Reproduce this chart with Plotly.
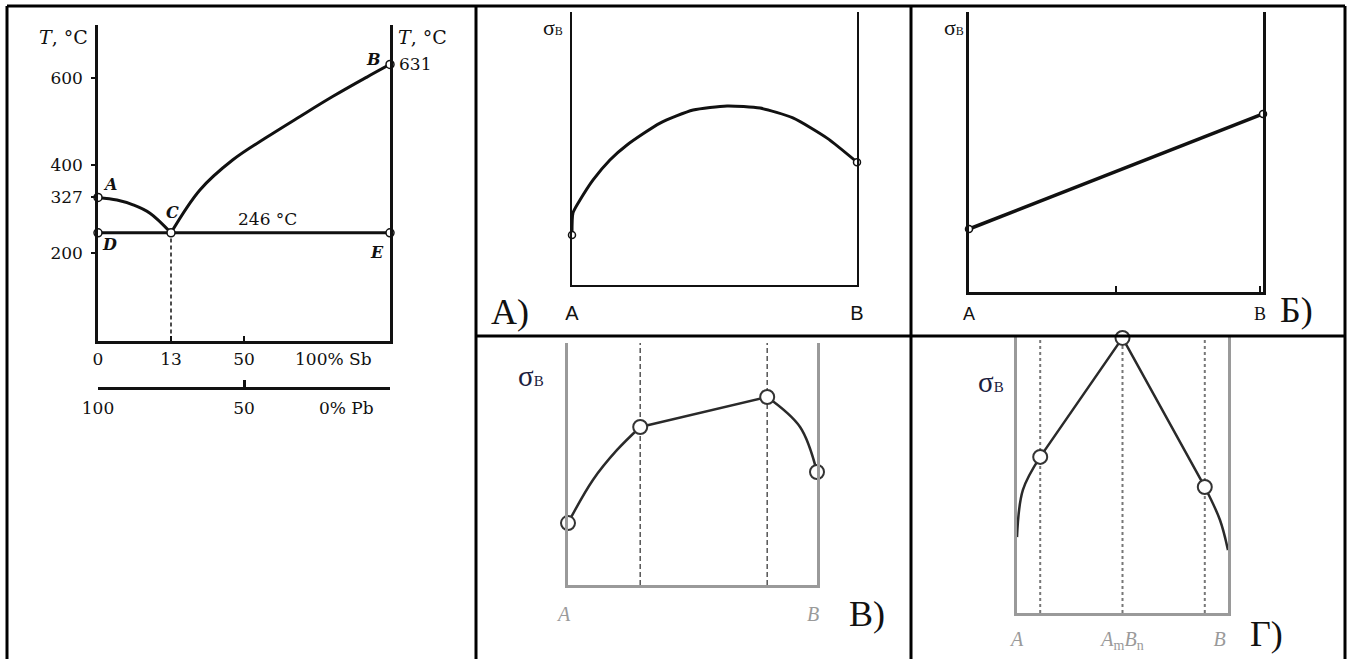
import plotly.graph_objects as go

W, H = 1351, 659

# ── Pb–Sb phase diagram (left cell) ─────────────────────────────────
liq_left_x = [0, 6.5, 12, 17.8, 25]
liq_left_t = [327, 321, 310, 291, 246]
liq_right_x = [25, 34.9, 46.2, 57.9, 69.2, 80.5, 92.1, 100]
liq_right_t = [246, 344, 413, 465, 512, 558, 602, 631]
eutectic_x = [0, 100]
eutectic_t = [246, 246]
pt_names = ["A", "C", "D", "E", "B"]
pt_x = [0, 25, 0, 100, 100]
pt_t = [327, 246, 246, 246, 631]
t_ticks = [200, 327, 400, 600]
sb_ticks = [0, 25, 50]
sb_text = ["0", "13", "50"]
pb_ticks = [0, 50, 100]
pb_text = ["100", "50", ""]

# ── σв vs composition sketches ──────────────────────────────────────
# A) continuous solid solution
a_x = [0, 0.35, 2.8, 7.4, 13.3, 19.3, 30.9, 42.5, 54.4, 66, 77.5, 89.5, 100]
a_s = [18.3, 26.4, 31.1, 38.5, 45.8, 51.3, 59.3, 64.1, 65.6, 64.8, 61.2, 53.8, 45]
# Б) mechanical mixture
b_x = [0, 100]
b_s = [22.5, 63.6]
# В) limited solid solutions + mixture
v_x1, v_s1 = [0, 10, 19.7, 29], [25.6, 43.4, 55.8, 65.3]
v_x2, v_s2 = [29, 80], [65.3, 77.7]
v_x3, v_s3 = [80, 93.2, 100], [77.7, 65.3, 46.7]
v_div = [29, 80]
# Г) chemical compound AmBn
g_x1, g_s1 = [0, 2.8, 11], [28, 45.4, 57.6]
g_x2, g_s2 = [11, 50, 89], [57.6, 101.5, 46.5]
g_x3, g_s3 = [89, 96.2, 100], [46.5, 34.3, 23.2]
g_div = [11, 50, 89]
g_ticks = [0, 50, 96]
g_text = ["<i>A</i>", "<i>A</i><sub>m</sub><i>B</i><sub>n</sub>", "<i>B</i>"]


def dom_x(a, b):
    return [a / W, b / W]


def dom_y(top, bottom):
    return [1 - bottom / H, 1 - top / H]


def vlines(xs, top):
    vx, vy = [], []
    for x in xs:
        vx += [x, x, None]
        vy += [0, top, None]
    return vx, vy


SERIF = "DejaVu Serif"
TIMES = "Liberation Serif"
SANS = "Liberation Sans"
INK = "#111111"
GREY = "#9a9a9a"

fig = go.Figure()

# phase diagram
fig.add_trace(go.Scatter(x=liq_left_x, y=liq_left_t, mode="lines", line=dict(color=INK, width=3, shape="spline"), xaxis="x", yaxis="y"))
fig.add_trace(go.Scatter(x=liq_right_x, y=liq_right_t, mode="lines", line=dict(color=INK, width=3, shape="spline"), xaxis="x", yaxis="y"))
fig.add_trace(go.Scatter(x=eutectic_x, y=eutectic_t, mode="lines", line=dict(color=INK, width=3), xaxis="x", yaxis="y"))
fig.add_trace(go.Scatter(x=[pt_x[1], pt_x[1]], y=[0, pt_t[1]], mode="lines", line=dict(color=INK, width=1.5, dash="4px,3px"), xaxis="x", yaxis="y"))
fig.add_trace(go.Scatter(x=pt_x, y=pt_t, mode="markers", cliponaxis=False,
                         marker=dict(size=8, color="white", line=dict(color=INK, width=1.5)), xaxis="x", yaxis="y"))
fig.add_trace(go.Scatter(x=[], y=[], xaxis="x6", yaxis="y"))

# A)
fig.add_trace(go.Scatter(x=a_x, y=a_s, mode="lines", line=dict(color=INK, width=3, shape="spline", smoothing=0.6), xaxis="x2", yaxis="y2"))
fig.add_trace(go.Scatter(x=[a_x[0], a_x[-1]], y=[a_s[0], a_s[-1]], mode="markers", cliponaxis=False,
                         marker=dict(size=7, color="white", line=dict(color=INK, width=1.5)), xaxis="x2", yaxis="y2"))

# Б)
fig.add_trace(go.Scatter(x=b_x, y=b_s, mode="lines+markers", cliponaxis=False, line=dict(color=INK, width=3.5),
                         marker=dict(size=7, color="white", line=dict(color=INK, width=1.5)), xaxis="x3", yaxis="y3"))

# В)
vx, vy = vlines(v_div, 100)
fig.add_trace(go.Scatter(x=vx, y=vy, mode="lines", line=dict(color="#555555", width=1.5, dash="5px,3px"), xaxis="x4", yaxis="y4"))
for xs, ys, shp in [(v_x1, v_s1, "spline"), (v_x2, v_s2, "linear"), (v_x3, v_s3, "spline")]:
    fig.add_trace(go.Scatter(x=xs, y=ys, mode="lines", line=dict(color="#2a2a2a", width=2.5, shape=shp), xaxis="x4", yaxis="y4"))
fig.add_trace(go.Scatter(x=[v_x1[0], v_x2[0], v_x3[0], v_x3[-1]], y=[v_s1[0], v_s2[0], v_s3[0], v_s3[-1]],
                         mode="markers", cliponaxis=False,
                         marker=dict(size=14, color="white", line=dict(color="#333333", width=2)), xaxis="x4", yaxis="y4"))

# Г)
gx, gy = vlines(g_div, 102.2)
fig.add_trace(go.Scatter(x=gx, y=gy, mode="lines", line=dict(color="#777777", width=2, dash="3px,3px"), xaxis="x5", yaxis="y5"))
for xs, ys, shp in [(g_x1, g_s1, "spline"), (g_x2, g_s2, "linear"), (g_x3, g_s3, "spline")]:
    fig.add_trace(go.Scatter(x=xs, y=ys, mode="lines", line=dict(color="#2a2a2a", width=2.5, shape=shp), xaxis="x5", yaxis="y5"))
fig.add_trace(go.Scatter(x=g_x2, y=g_s2, mode="markers", cliponaxis=False,
                         marker=dict(size=14, color="white", line=dict(color="#333333", width=2)), xaxis="x5", yaxis="y5"))


def box_axes(color, width):
    xa = dict(showline=True, linecolor=color, linewidth=width, showgrid=False, zeroline=False,
              ticks="", showticklabels=True, automargin=False)
    ya = dict(showline=True, mirror=True, linecolor=color, linewidth=width, showgrid=False, zeroline=False,
              ticks="", showticklabels=False, automargin=False)
    return xa, ya


layout = dict(
    width=W, height=H, margin=dict(l=0, r=0, t=0, b=0, autoexpand=False),
    paper_bgcolor="white", plot_bgcolor="white", showlegend=False,
)

# left phase diagram axes
xa, ya = box_axes(INK, 2.5)
xa.update(domain=dom_x(98, 390), range=[0, 100], anchor="y", tickvals=sb_ticks, ticktext=sb_text,
          ticks="inside", ticklen=5, tickwidth=2, tickcolor=INK, ticklabelstandoff=1,
          tickfont=dict(family=SERIF, size=17, color=INK))
ya.update(domain=dom_y(25, 340.5), range=[0, 721], anchor="x", tickvals=t_ticks, showticklabels=True,
          ticks="outside", ticklen=4, tickwidth=2, tickcolor=INK, ticklabelstandoff=5,
          tickfont=dict(family=SERIF, size=17, color=INK))
layout["xaxis"], layout["yaxis"] = xa, ya
layout["xaxis6"] = dict(overlaying="x", anchor="free", position=1 - 388 / H, range=[0, 100],
                        showline=True, linecolor=INK, linewidth=2.5, showgrid=False, zeroline=False,
                        tickvals=pb_ticks, ticktext=pb_text, ticks="inside", ticklen=7, tickwidth=2.5,
                        tickcolor=INK, ticklabelstandoff=4, automargin=False,
                        tickfont=dict(family=SERIF, size=17, color=INK))

# A)
xa, ya = box_axes(INK, 2)
xa.update(domain=dom_x(572, 857), range=[0, 100], anchor="y2", tickvals=[0, 100], ticktext=["A", "B"],
          ticklabelstandoff=9, tickfont=dict(family=SANS, size=20, color=INK))
ya.update(domain=dom_y(12, 285), range=[0, 100], anchor="x2")
layout["xaxis2"], layout["yaxis2"] = xa, ya

# Б)
xa, ya = box_axes(INK, 2.5)
xa.update(domain=dom_x(969, 1263), range=[0, 100], anchor="y3", tickvals=[0, 50, 99],
          ticktext=["A", "", "<span style='font-family:Liberation Serif'>B</span>"],
          ticks="inside", ticklen=6, tickwidth=2, tickcolor=INK,
          ticklabelstandoff=4, tickfont=dict(family=SANS, size=18, color=INK))
ya.update(domain=dom_y(12, 292), range=[0, 100], anchor="x3")
layout["xaxis3"], layout["yaxis3"] = xa, ya

# В)
xa, ya = box_axes(GREY, 2.5)
xa.update(domain=dom_x(568, 817), range=[0, 100], anchor="y4", tickvals=[0, 100],
          ticktext=["<i>A</i>", "<i>B</i>"], ticklabelstandoff=9, ticklabelshift=-4,
          tickfont=dict(family=TIMES, size=20, color=GREY))
ya.update(domain=dom_y(343, 585), range=[0, 100], anchor="x4")
layout["xaxis4"], layout["yaxis4"] = xa, ya

# Г)
xa, ya = box_axes(GREY, 2.5)
xa.update(domain=dom_x(1017, 1228), range=[0, 100], anchor="y5", tickvals=g_ticks, ticktext=g_text,
          ticklabelstandoff=6, tickfont=dict(family=TIMES, size=20, color=GREY))
ya.update(domain=dom_y(336, 613), range=[0, 102.2], anchor="x5")
layout["xaxis5"], layout["yaxis5"] = xa, ya

fig.update_layout(**layout)

# ── labels ──────────────────────────────────────────────────────────
ann = []


def paper_text(px, py, text, size, family=SERIF, color=INK):
    ann.append(dict(x=px / W, y=1 - py / H, xref="paper", yref="paper", text=text, showarrow=False,
                    font=dict(family=family, size=size, color=color), xanchor="center", yanchor="middle"))


# point letters on the phase diagram
pt_shift = [(12, 13), (1, 20), (12, -12), (-13, -20), (-17, 5)]
for name, x, t, (dx, dy) in zip(pt_names, pt_x, pt_t, pt_shift):
    ann.append(dict(x=x, y=t, xref="x", yref="y", text=f"<i><b>{name}</b></i>", showarrow=False,
                    xshift=dx, yshift=dy, font=dict(family=SERIF, size=16, color=INK)))
ann.append(dict(x=pt_x[4], y=pt_t[4], xref="x", yref="y", text=str(pt_t[4]), showarrow=False,
                xshift=25, font=dict(family=SERIF, size=17, color=INK)))
ann.append(dict(x=58, y=eutectic_t[0], xref="x", yref="y", text=f"{eutectic_t[0]} °C", showarrow=False,
                yshift=14, font=dict(family=SERIF, size=17, color=INK)))
ann.append(dict(x=80.5, y=0, xref="x", yref="y", text="100% Sb", showarrow=False,
                yshift=-18, font=dict(family=SERIF, size=17, color=INK)))
ann.append(dict(x=85, y=1 - 388 / H, xref="x", yref="paper", text="0% Pb", showarrow=False,
                yshift=-20, font=dict(family=SERIF, size=17, color=INK)))
paper_text(63, 37, "<i>T</i>, °C", 19)
paper_text(422, 37, "<i>T</i>, °C", 19)

# σв captions and panel letters
paper_text(553, 28, "σ<span style='font-size:12px'>B</span>", 22, TIMES)
paper_text(954, 28, "σ<span style='font-size:12px'>B</span>", 22, TIMES)
paper_text(531, 376, "σ<span style='font-size:15px'>B</span>", 29, TIMES, "#1c2140")
paper_text(991, 382, "σ<span style='font-size:15px'>B</span>", 29, TIMES, "#1c2140")
paper_text(510, 312, "A)", 36, TIMES)
paper_text(1296, 310, "Б)", 36, TIMES)
paper_text(867, 614, "В)", 36, TIMES)
paper_text(1266, 634, "Г)", 36, TIMES)
fig.update_layout(annotations=ann)

# ── table grid ──────────────────────────────────────────────────────
grid = [(7, 6, 1345, 6), (7, 6, 7, H), (476, 6, 476, H), (911, 6, 911, H), (1345, 6, 1345, H),
        (476, 336, 1345, 336)]
fig.update_layout(shapes=[dict(type="line", xref="paper", yref="paper", x0=a / W, y0=1 - b / H,
                               x1=c / W, y1=1 - d / H, line=dict(color="black", width=3), layer="above")
                          for a, b, c, d in grid])

fig.write_html("out.html", config={"displayModeBar": False},
               post_script="document.body.style.margin='0px';")
